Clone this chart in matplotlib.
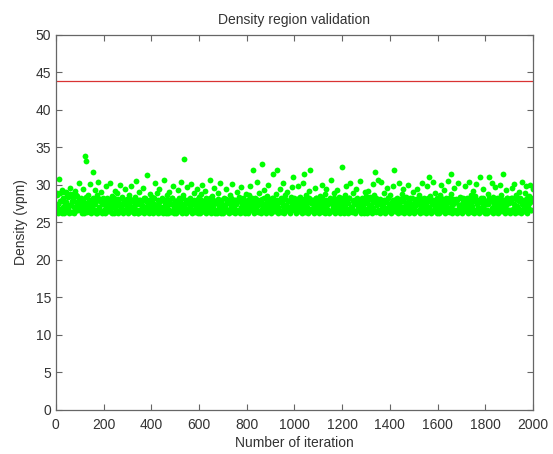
import numpy as np
import matplotlib
matplotlib.use("Agg")
import matplotlib.pyplot as plt

# red limit line of the validated density region (vpm)
upper_limit = 43.8

# density of every 4th iteration (2, 6, 10, ...), one row per 100 iterations
density = [
    27.2, 28.9, 26.3, 30.8, 27.8, 26.5, 29.3, 28.1, 26.3, 27.5, 29.0, 26.8, 28.4, 26.3, 29.6, 27.3, 26.4, 28.8, 27.9, 26.3, 29.2, 27.0, 28.5, 26.6, 30.2,
    26.9, 28.3, 26.3, 29.5, 27.6, 33.8, 33.2, 26.4, 28.7, 27.2, 30.1, 26.3, 28.0, 31.7, 26.7, 29.3, 27.4, 26.3, 28.6, 30.4, 26.5, 27.9, 29.1, 26.3, 28.2,
    27.5, 26.3, 29.8, 28.0, 26.6, 27.3, 30.3, 26.4, 28.5, 27.1, 26.3, 29.2, 27.8, 26.5, 28.9, 26.3, 27.6, 30.0, 26.8, 28.3, 26.3, 27.4, 29.5, 26.6, 28.1,
    26.3, 28.6, 27.2, 29.9, 26.5, 27.9, 26.3, 28.4, 30.5, 26.7, 27.5, 26.3, 29.1, 28.0, 26.4, 27.3, 29.6, 26.3, 28.2, 26.9, 31.3, 27.7, 26.3, 28.8, 27.0,
    28.4, 26.3, 27.1, 30.2, 26.6, 28.9, 27.5, 26.3, 29.4, 27.8, 26.5, 28.1, 26.3, 30.6, 27.3, 26.8, 28.7, 26.3, 29.0, 27.6, 26.4, 28.3, 29.8, 26.3, 27.2,
    26.3, 27.9, 29.3, 26.5, 28.2, 27.0, 30.4, 26.3, 28.6, 33.5, 27.4, 26.3, 29.7, 27.8, 26.6, 28.0, 30.1, 26.3, 27.5, 28.9, 26.4, 27.2, 29.5, 26.3, 28.4,
    27.7, 26.3, 28.8, 30.0, 26.5, 27.3, 29.2, 26.3, 28.1, 27.6, 26.7, 30.7, 26.3, 28.5, 27.0, 29.6, 26.4, 27.8, 26.3, 28.9, 27.4, 30.3, 26.3, 28.0, 26.8,
    26.3, 28.3, 27.1, 29.4, 26.5, 27.9, 26.3, 28.6, 27.3, 30.1, 26.4, 28.0, 26.3, 27.5, 29.0, 26.7, 28.4, 26.3, 27.7, 29.7, 26.5, 28.2, 27.0, 26.3, 28.8,
    27.4, 26.3, 28.7, 29.9, 26.6, 27.8, 32.0, 26.3, 28.3, 27.1, 30.4, 26.4, 28.9, 27.6, 26.3, 32.8, 28.1, 26.5, 29.3, 27.3, 26.3, 28.5, 30.0, 26.7, 27.9,
    26.3, 28.2, 31.4, 27.5, 26.5, 28.8, 32.0, 26.3, 27.7, 29.5, 26.4, 28.0, 27.2, 30.2, 26.3, 28.6, 27.0, 29.1, 26.6, 27.8, 26.3, 28.4, 29.7, 31.1, 27.3,
    28.1, 26.3, 27.6, 29.8, 26.5, 28.4, 27.2, 26.3, 30.3, 31.4, 27.9, 26.4, 28.7, 27.0, 26.3, 29.2, 32.0, 26.6, 28.0, 27.4, 26.3, 29.6, 28.3, 26.5, 27.7,
    26.3, 28.5, 27.3, 30.0, 26.4, 27.9, 26.3, 28.8, 29.4, 26.7, 27.5, 26.3, 28.2, 30.6, 26.5, 27.1, 28.9, 26.3, 27.8, 29.3, 26.6, 28.4, 26.3, 27.6, 32.4,
    27.2, 26.3, 28.6, 29.9, 26.5, 27.7, 26.3, 28.3, 30.2, 27.0, 26.4, 28.9, 27.4, 26.3, 29.5, 28.0, 26.6, 27.6, 30.5, 26.3, 28.2, 27.1, 26.3, 29.1, 28.5,
    26.3, 27.8, 29.2, 26.5, 28.4, 27.3, 26.3, 30.1, 28.7, 31.7, 26.4, 27.5, 30.6, 28.0, 26.3, 30.4, 27.2, 26.6, 28.9, 26.3, 27.7, 29.6, 26.5, 28.3, 27.0,
    28.6, 26.3, 27.4, 29.8, 32.0, 26.5, 28.1, 27.0, 26.3, 30.3, 27.7, 26.4, 28.8, 29.4, 26.3, 27.2, 28.4, 26.6, 30.0, 27.9, 26.3, 28.2, 27.5, 26.5, 29.1,
    26.3, 28.0, 27.3, 29.5, 26.5, 28.7, 26.3, 27.6, 30.2, 26.4, 28.3, 27.1, 26.3, 29.8, 27.8, 31.1, 26.6, 28.5, 26.3, 27.4, 30.4, 26.5, 28.9, 27.2, 26.3,
    27.9, 26.3, 28.6, 30.0, 26.5, 27.3, 29.3, 26.3, 28.2, 27.0, 30.5, 26.4, 27.7, 31.4, 28.8, 26.3, 27.5, 29.6, 26.6, 28.1, 26.3, 30.2, 27.2, 28.4, 26.5,
    26.3, 28.3, 27.6, 29.9, 26.5, 28.0, 26.3, 30.4, 27.4, 28.7, 26.4, 27.1, 29.2, 26.3, 28.5, 30.1, 26.6, 27.8, 26.3, 31.1, 28.2, 26.5, 29.5, 27.3, 26.3,
    27.5, 26.3, 28.8, 31.0, 26.5, 27.9, 30.3, 26.3, 28.4, 27.2, 29.7, 26.4, 28.1, 26.3, 27.6, 30.0, 28.6, 26.5, 31.5, 27.0, 26.3, 29.3, 28.3, 26.6, 27.8,
    26.3, 28.2, 29.6, 26.5, 27.4, 30.1, 26.3, 28.7, 27.1, 26.4, 29.0, 28.0, 26.3, 30.4, 27.6, 26.5, 28.9, 29.8, 26.3, 27.3, 28.5, 30.0, 26.6, 27.9, 29.4,
]
iteration = np.arange(2, 2000, 4)

# density of the remaining sampled iterations (4, 8, 12, ...), inside the dense band
density_band = [
    28.6, 27.4, 26.8, 28.9, 27.9, 26.3, 28.3, 27.1, 29.0, 26.6, 27.7, 28.5, 26.9, 27.3, 28.8, 26.4, 27.9, 28.2, 27.0, 26.5, 28.7, 27.5, 26.8, 28.0, 27.2,
    27.8, 26.5, 28.1, 27.0, 26.3, 27.6, 28.4, 26.8, 27.3, 28.0, 26.4, 27.7, 26.9, 28.2, 27.4, 26.6, 27.9, 26.3, 28.3, 27.1, 26.7, 28.0, 27.5, 26.4, 27.8,
    26.8, 27.9, 26.4, 28.2, 27.3, 26.6, 28.0, 27.5, 26.3, 27.7, 28.3, 26.9, 27.2, 26.5, 28.1, 27.6, 26.7, 27.0, 28.4, 26.4, 27.8, 26.6, 28.0, 27.3, 26.9,
    27.5, 26.6, 28.1, 26.9, 27.8, 26.4, 27.2, 28.3, 26.7, 27.6, 26.3, 28.0, 27.4, 26.8, 27.9, 26.5, 28.2, 27.1, 26.6, 27.7, 28.0, 26.4, 27.3, 26.9, 28.1,
    26.7, 27.6, 28.2, 26.5, 27.3, 26.9, 28.0, 27.7, 26.4, 27.1, 28.3, 26.6, 27.8, 27.2, 26.3, 28.1, 27.5, 26.8, 27.9, 26.5, 27.4, 28.2, 26.7, 27.0, 27.8,
    27.9, 26.6, 27.2, 28.1, 26.8, 27.6, 26.4, 28.3, 27.0, 26.7, 27.8, 28.0, 26.5, 27.4, 26.9, 28.2, 27.3, 26.6, 27.7, 28.0, 26.8, 27.5, 26.4, 28.1, 27.1,
    26.5, 28.0, 27.4, 26.8, 27.9, 26.4, 28.2, 27.1, 26.7, 27.7, 28.3, 26.6, 27.3, 26.9, 28.0, 27.5, 26.3, 27.8, 26.7, 28.1, 27.2, 26.5, 27.9, 27.4, 26.8,
    27.3, 26.7, 28.1, 27.6, 26.4, 27.9, 26.8, 27.2, 28.3, 26.6, 27.7, 26.9, 28.0, 27.4, 26.5, 27.8, 28.2, 26.7, 27.1, 26.4, 27.6, 28.0, 26.9, 27.5, 26.6,
    28.0, 27.2, 26.6, 27.8, 28.2, 26.9, 27.4, 26.5, 27.9, 28.1, 26.7, 27.3, 26.4, 28.0, 27.7, 26.8, 27.1, 28.3, 26.6, 27.6, 26.9, 28.0, 27.4, 26.5, 27.8,
    26.9, 27.7, 28.2, 26.5, 27.4, 26.8, 28.0, 27.1, 26.6, 27.9, 28.3, 26.4, 27.5, 26.9, 28.1, 27.3, 26.7, 27.8, 26.5, 28.0, 27.2, 26.8, 27.6, 28.2, 26.6,
    27.4, 28.0, 26.7, 27.2, 28.3, 26.5, 27.8, 26.9, 27.5, 28.1, 26.6, 27.3, 26.4, 27.9, 28.2, 26.8, 27.6, 26.5, 28.0, 27.1, 26.7, 27.7, 28.3, 26.9, 27.4,
    26.6, 27.8, 27.2, 28.2, 26.9, 27.5, 26.4, 28.0, 27.3, 26.7, 27.9, 28.1, 26.5, 27.6, 26.8, 28.3, 27.0, 26.6, 27.7, 28.0, 26.9, 27.4, 26.5, 28.2, 27.1,
    27.9, 26.5, 27.3, 28.1, 26.8, 27.6, 28.3, 26.6, 27.1, 26.9, 27.8, 28.0, 26.4, 27.5, 26.7, 28.2, 27.2, 26.9, 27.7, 26.5, 28.1, 27.4, 26.8, 27.9, 26.6,
    26.8, 27.5, 28.2, 26.6, 27.1, 28.0, 26.9, 27.7, 26.5, 28.3, 27.3, 26.7, 27.9, 26.4, 28.1, 27.6, 26.8, 27.2, 28.0, 26.6, 27.8, 26.9, 28.2, 27.4, 26.5,
    27.6, 26.9, 28.0, 27.3, 26.5, 27.8, 28.2, 26.7, 27.4, 26.6, 28.1, 27.0, 26.8, 27.9, 28.3, 26.5, 27.5, 26.9, 27.7, 28.0, 26.6, 27.2, 28.2, 26.8, 27.6,
    26.7, 28.1, 27.4, 26.5, 27.9, 26.8, 28.2, 27.2, 26.6, 27.7, 28.0, 26.9, 27.5, 26.4, 28.3, 27.1, 26.7, 27.8, 26.5, 28.0, 27.3, 26.9, 27.6, 28.2, 26.6,
    27.2, 26.6, 27.9, 28.2, 26.8, 27.5, 26.5, 28.0, 27.4, 26.9, 27.7, 28.3, 26.6, 27.1, 26.8, 28.1, 27.6, 26.5, 27.9, 28.0, 26.7, 27.3, 26.9, 28.2, 27.5,
    26.9, 27.7, 28.1, 26.6, 27.3, 28.3, 26.8, 27.6, 26.5, 28.0, 27.2, 26.7, 27.9, 28.2, 26.6, 27.4, 26.9, 28.0, 27.7, 26.5, 27.1, 28.2, 26.8, 27.8, 26.6,
    27.8, 26.7, 27.4, 28.2, 26.5, 27.9, 26.9, 28.0, 27.3, 26.6, 27.6, 28.3, 26.8, 27.2, 26.5, 28.1, 27.5, 26.9, 27.8, 28.0, 26.6, 27.3, 28.2, 26.7, 27.6,
    26.6, 27.9, 28.3, 26.8, 27.5, 26.5, 28.1, 27.2, 26.9, 27.8, 28.2, 26.6, 27.4, 26.8, 28.0, 27.7, 26.5, 27.3, 28.2, 26.9, 27.6, 28.0, 26.7, 27.9, 28.3,
]
iteration_band = np.arange(4, 2001, 4)

x_ticks = [0, 200, 400, 600, 800, 1000, 1200, 1400, 1600, 1800, 2000]
y_ticks = [0, 5, 10, 15, 20, 25, 30, 35, 40, 45, 50]

plt.rcParams['font.family'] = ['Liberation Sans', 'DejaVu Sans']
text_color = '#333333'
frame_color = '#666666'
green = (0.0, 1.0, 0.0)

fig = plt.figure(figsize=(5.53, 4.54), dpi=100, facecolor='white')
ax = fig.add_axes([0.101, 0.097, 0.863, 0.826])

ax.plot(iteration_band, density_band, linestyle='none', marker='o', markersize=4.2,
        color=green, markeredgewidth=0)
ax.plot(iteration, density, linestyle='none', marker='o', markersize=4.2,
        color=green, markeredgewidth=0)
ax.axhline(upper_limit, color=(0.85, 0.2, 0.2), linewidth=0.9)

ax.set_xlim(0, 2000)
ax.set_ylim(0, 50)
ax.set_xticks(x_ticks)
ax.set_yticks(y_ticks)
ax.tick_params(direction='in', length=4, width=0.8, color=frame_color,
               top=True, right=True, labelsize=10, labelcolor=text_color)
ax.tick_params(axis='x', pad=5.5)
ax.tick_params(axis='y', pad=3.5)
for spine in ax.spines.values():
    spine.set_color(frame_color)
    spine.set_linewidth(0.9)

ax.set_title('Density region validation', fontsize=10, color=text_color, pad=8)
ax.set_xlabel('Number of iteration', fontsize=10, color=text_color, labelpad=3)
ax.set_ylabel('Density (vpm)', fontsize=10, color=text_color, labelpad=5)

fig.savefig('out.png', dpi=100, facecolor='white')
